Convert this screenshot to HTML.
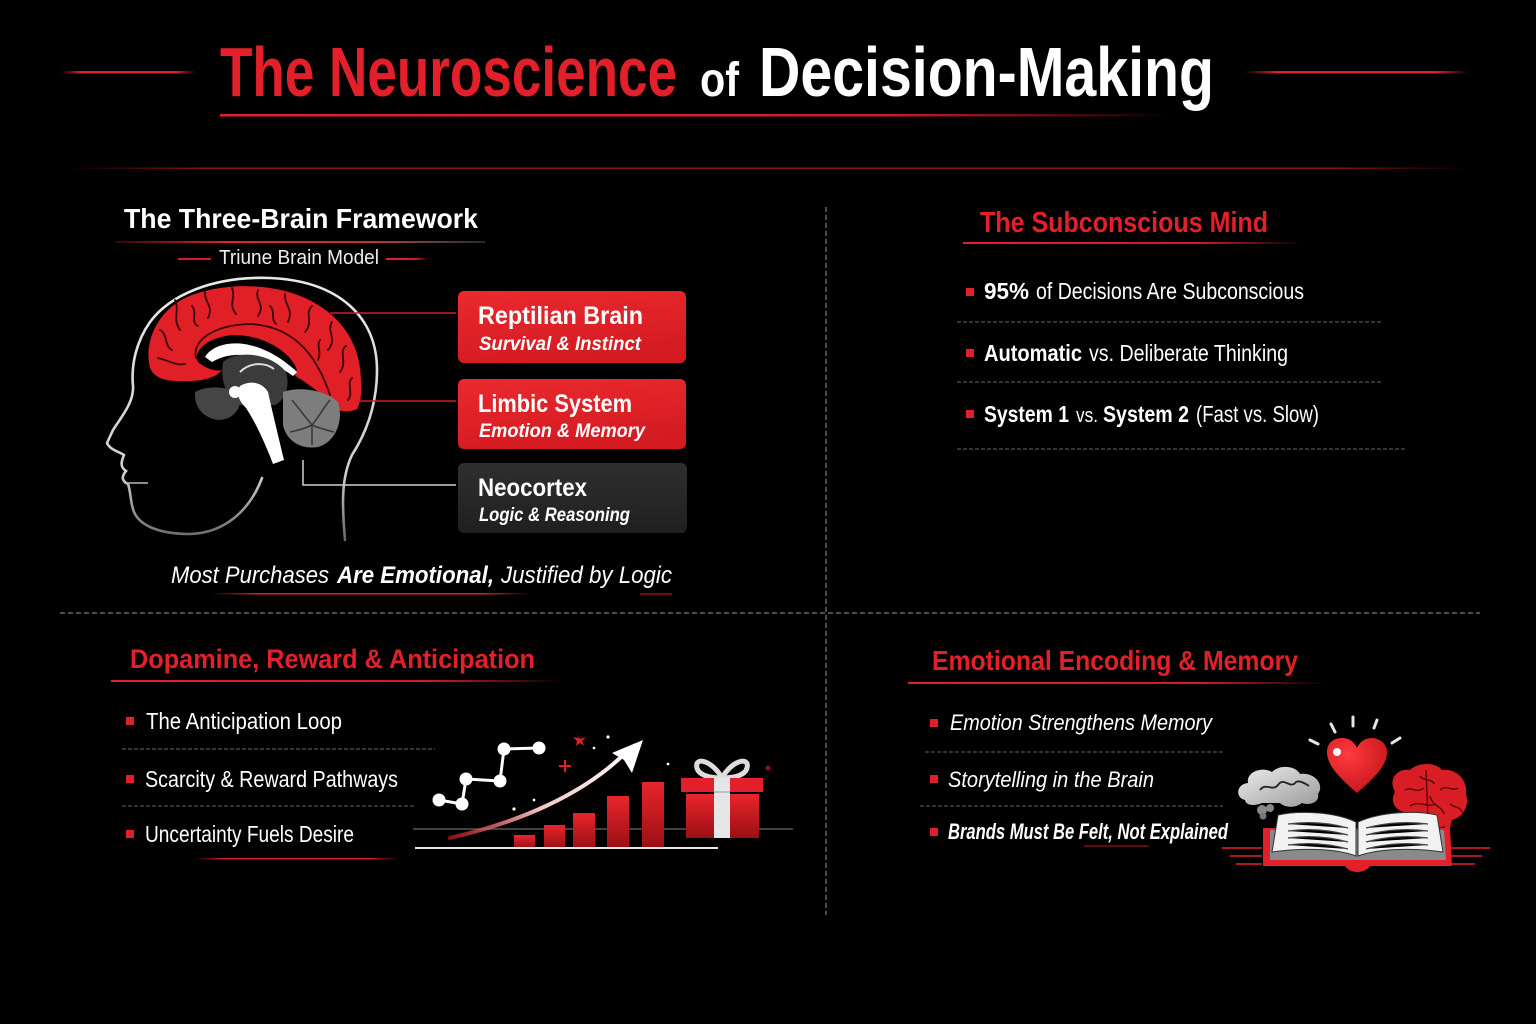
<!DOCTYPE html>
<html><head><meta charset="utf-8"><style>
html,body{margin:0;padding:0;background:#000;}
svg{display:block;}
text{font-family:"Liberation Sans Narrow","Liberation Sans",sans-serif;}
</style></head><body>
<svg width="1536" height="1024" viewBox="0 0 1536 1024" xmlns="http://www.w3.org/2000/svg">
<defs>
 <linearGradient id="rl" x1="0" x2="1" y1="0" y2="0">
  <stop offset="0" stop-color="#e3202a" stop-opacity="0"/><stop offset="0.15" stop-color="#e3202a"/><stop offset="0.85" stop-color="#e3202a"/><stop offset="1" stop-color="#e3202a" stop-opacity="0"/>
 </linearGradient>
 <linearGradient id="rlr" x1="0" x2="1" y1="0" y2="0">
  <stop offset="0" stop-color="#e3202a"/><stop offset="0.7" stop-color="#d01c24"/><stop offset="1" stop-color="#e3202a" stop-opacity="0"/>
 </linearGradient>
 <linearGradient id="rlg" x1="0" x2="1" y1="0" y2="0">
  <stop offset="0" stop-color="#e3202a" stop-opacity="0.2"/><stop offset="0.3" stop-color="#e3202a"/><stop offset="0.7" stop-color="#b33"/><stop offset="1" stop-color="#888" stop-opacity="0.3"/>
 </linearGradient>
 <linearGradient id="top" x1="0" x2="1" y1="0" y2="0">
  <stop offset="0" stop-color="#7a1015" stop-opacity="0"/><stop offset="0.1" stop-color="#8a1218"/><stop offset="0.9" stop-color="#8a1218"/><stop offset="1" stop-color="#7a1015" stop-opacity="0"/>
 </linearGradient>
 <linearGradient id="boxr" x1="0" x2="0.3" y1="0" y2="1">
  <stop offset="0" stop-color="#ea2a2f"/><stop offset="1" stop-color="#d41b22"/>
 </linearGradient>
 <linearGradient id="boxg" x1="0" x2="0" y1="0" y2="1">
  <stop offset="0" stop-color="#2f2f2f"/><stop offset="1" stop-color="#1f1f1f"/>
 </linearGradient>
 <linearGradient id="bar" x1="0" x2="0" y1="0" y2="1">
  <stop offset="0" stop-color="#e8262c"/><stop offset="1" stop-color="#9a0f14"/>
 </linearGradient>
 <linearGradient id="arr" x1="450" y1="838" x2="640" y2="742" gradientUnits="userSpaceOnUse">
  <stop offset="0" stop-color="#e3202a" stop-opacity="0.6"/><stop offset="0.45" stop-color="#f3c8c8"/><stop offset="1" stop-color="#fff"/>
 </linearGradient>
 <linearGradient id="head" x1="0" x2="0" y1="0" y2="1">
  <stop offset="0" stop-color="#e8e8e8"/><stop offset="0.75" stop-color="#cfcfcf"/><stop offset="1" stop-color="#666"/>
 </linearGradient>
 <linearGradient id="cloud" x1="0" x2="1" y1="0" y2="1">
  <stop offset="0" stop-color="#eee"/><stop offset="1" stop-color="#9a9a9a"/>
 </linearGradient>
 <radialGradient id="heart" cx="0.35" cy="0.3" r="0.8">
  <stop offset="0" stop-color="#ff3a3f"/><stop offset="1" stop-color="#c3141a"/>
 </radialGradient>
</defs>
<rect width="1536" height="1024" fill="#000"/>

<!-- TITLE -->
<rect x="61" y="71" width="135" height="2.5" fill="url(#rl)"/>
<rect x="1244" y="71" width="225" height="2.5" fill="url(#rl)"/>
<text x="220" y="96" font-size="70" font-weight="bold" fill="#e3202a" textLength="457" lengthAdjust="spacingAndGlyphs">The Neuroscience</text>
<text x="700" y="96" font-size="48" font-weight="bold" fill="#fff" textLength="39" lengthAdjust="spacingAndGlyphs">of</text>
<text x="759" y="96" font-size="70" font-weight="bold" fill="#fff" textLength="455" lengthAdjust="spacingAndGlyphs">Decision-Making</text>
<rect x="220" y="114" width="952" height="2.5" fill="url(#rlr)"/>
<rect x="64" y="167.5" width="1410" height="1.5" fill="url(#top)"/>

<!-- dividers -->
<line x1="826" y1="207" x2="826" y2="915" stroke="#9a9a9a" stroke-width="1" stroke-dasharray="5 3"/>
<line x1="60" y1="613" x2="1480" y2="613" stroke="#9a9a9a" stroke-width="1" stroke-dasharray="5 3"/>

<!-- SECTION 1 -->
<text x="124" y="228" font-size="28" font-weight="bold" fill="#fff" textLength="354" lengthAdjust="spacingAndGlyphs">The Three-Brain Framework</text>
<rect x="115" y="241" width="370" height="2" fill="url(#rlg)"/>
<line x1="178" y1="259" x2="211" y2="259" stroke="#d41e26" stroke-width="2"/>
<rect x="386" y="258" width="42" height="2" fill="url(#rlr)"/>
<text x="219" y="264" font-size="20" fill="#eee" textLength="160" lengthAdjust="spacingAndGlyphs">Triune Brain Model</text>

<!-- head outline -->
<path d="M345 540 C342 505 341 478 352 455 C368 430 377 402 377 370 C377 318 340 281 270 278 C213 276 170 295 150 322 C136 342 131 365 133 386 C134 402 122 416 113 430 L107 443 C110 450 120 452 124 455 C121 462 120 467 126 471 C121 477 122 481 128 484 C131 492 130 502 134 512 C140 526 160 534 190 534 C225 533 250 510 262 478" fill="none" stroke="url(#head)" stroke-width="2.6" stroke-linecap="round"/>
<path d="M124 483 L148 483" stroke="#bbb" stroke-width="1.5"/>

<!-- brain -->
<path d="M150 368 C143 340 160 305 195 294 C230 282 275 284 305 298 C338 313 356 338 360 368 C362 388 362 400 357 409 C350 412 344 412 338 410 C330 400 316 390 302 380 C290 374 296 372 297 370 C290 350 260 334 232 335 C205 338 193 352 198 362 C205 368 215 372 222 370 C214 380 195 382 178 381 C163 381 154 377 150 368 Z" fill="#e01f26"/>
<g fill="none" stroke="#3a0405" stroke-width="1.8" stroke-linecap="round">
 <path d="M196 358 C192 340 214 325 250 324 C290 326 315 350 330 395"/>
 <path d="M175 300 C180 312 172 318 180 330"/>
 <path d="M205 292 C204 302 214 306 208 318"/>
 <path d="M232 288 C236 298 228 304 236 314"/>
 <path d="M258 290 C254 300 266 304 258 316"/>
 <path d="M285 294 C284 306 294 308 288 322"/>
 <path d="M312 306 C304 314 314 322 305 332"/>
 <path d="M332 322 C326 332 338 338 328 350"/>
 <path d="M346 346 C338 352 348 362 340 372"/>
 <path d="M352 378 C346 384 354 392 348 400"/>
 <path d="M160 330 C168 334 164 346 172 350"/>
 <path d="M158 358 C168 360 176 366 185 364"/>
 <path d="M192 306 C198 314 190 322 198 326"/>
 <path d="M270 306 C276 312 270 318 276 324"/>
 <path d="M320 340 C316 346 322 352 318 360"/>
</g>
<path d="M205 357 C215 340 255 333 297 372 L293 376 C260 352 232 350 212 362 Z" fill="#fff"/>
<path d="M223 362 C235 350 270 352 286 372 C290 385 286 400 275 405 L240 405 C226 398 220 380 223 362 Z" fill="#3b3b3b"/>
<path d="M240 372 C250 362 265 362 274 369" fill="none" stroke="#ddd" stroke-width="2"/>
<path d="M195 392 C208 385 230 386 240 395 C242 410 232 420 218 420 C204 418 194 408 195 392 Z" fill="#454545"/>
<path d="M283 392 C300 386 325 390 338 402 C344 420 336 442 318 447 C300 450 286 440 283 425 Z" fill="#7d7d7d"/>
<g fill="none" stroke="#3a3a3a" stroke-width="1.6">
 <path d="M292 400 C300 410 306 418 312 425 M330 400 C322 410 318 418 312 425 M290 432 C300 430 306 428 312 425 M334 432 C326 430 318 428 312 425 M312 445 L312 425"/>
</g>
<circle cx="235" cy="392" r="6" fill="#fff"/>
<path d="M240 386 C250 380 262 382 268 392 C272 410 278 435 284 460 L273 464 C264 440 254 420 246 408 C238 400 236 392 240 386 Z" fill="#fff"/>

<!-- connectors -->
<line x1="330" y1="313" x2="456" y2="313" stroke="#d01c24" stroke-width="1.6"/>
<line x1="358" y1="401" x2="456" y2="401" stroke="#d01c24" stroke-width="1.6"/>
<polyline points="303,460 303,485 456,485" fill="none" stroke="#cfcfcf" stroke-width="1.5"/>

<!-- boxes -->
<rect x="458" y="291" width="228" height="72" rx="6" fill="url(#boxr)"/>
<text x="478" y="324" font-size="25" font-weight="bold" fill="#fff" textLength="165" lengthAdjust="spacingAndGlyphs">Reptilian Brain</text>
<text x="479" y="350" font-size="19" font-weight="bold" font-style="italic" fill="#fff" textLength="162" lengthAdjust="spacingAndGlyphs">Survival &amp; Instinct</text>
<rect x="458" y="379" width="228" height="70" rx="6" fill="url(#boxr)"/>
<text x="478" y="412" font-size="25" font-weight="bold" fill="#fff" textLength="154" lengthAdjust="spacingAndGlyphs">Limbic System</text>
<text x="479" y="437" font-size="19" font-weight="bold" font-style="italic" fill="#fff" textLength="166" lengthAdjust="spacingAndGlyphs">Emotion &amp; Memory</text>
<rect x="458" y="463" width="229" height="70" rx="6" fill="url(#boxg)"/>
<text x="478" y="496" font-size="25" font-weight="bold" fill="#fff" textLength="109" lengthAdjust="spacingAndGlyphs">Neocortex</text>
<text x="479" y="521" font-size="19" font-weight="bold" font-style="italic" fill="#fff" textLength="151" lengthAdjust="spacingAndGlyphs">Logic &amp; Reasoning</text>

<text x="171" y="583" font-size="24" font-style="italic" fill="#fff" textLength="158" lengthAdjust="spacingAndGlyphs">Most Purchases</text>
<text x="337" y="583" font-size="24" font-style="italic" font-weight="bold" fill="#fff" textLength="157" lengthAdjust="spacingAndGlyphs">Are Emotional,</text>
<text x="501" y="583" font-size="24" font-style="italic" fill="#fff" textLength="171" lengthAdjust="spacingAndGlyphs">Justified by Logic</text>
<rect x="211" y="593" width="319" height="1.5" fill="url(#rl)"/>
<line x1="640" y1="594" x2="672" y2="594" stroke="#8a1218" stroke-width="1.5"/>

<!-- SECTION 2 -->
<text x="980" y="232" font-size="29" font-weight="bold" fill="#e3202a" textLength="288" lengthAdjust="spacingAndGlyphs">The Subconscious Mind</text>
<rect x="963" y="242" width="339" height="2" fill="url(#rlr)"/>
<rect x="966" y="288" width="8" height="8" fill="#e3202a"/>
<text x="984" y="299" font-size="23" fill="#fff" textLength="45" lengthAdjust="spacingAndGlyphs" font-weight="bold">95%</text>
<text x="1036" y="299" font-size="23" fill="#fff" textLength="268" lengthAdjust="spacingAndGlyphs">of Decisions Are Subconscious</text>
<line x1="957" y1="322" x2="1383" y2="322" stroke="#666" stroke-width="1" stroke-dasharray="4 2"/>
<rect x="966" y="349" width="8" height="8" fill="#e3202a"/>
<text x="984" y="361" font-size="23" font-weight="bold" fill="#fff" textLength="98" lengthAdjust="spacingAndGlyphs">Automatic</text>
<text x="1089" y="361" font-size="23" fill="#fff" textLength="199" lengthAdjust="spacingAndGlyphs">vs. Deliberate Thinking</text>
<line x1="957" y1="382" x2="1383" y2="382" stroke="#666" stroke-width="1" stroke-dasharray="4 2"/>
<rect x="966" y="410" width="8" height="8" fill="#e3202a"/>
<text x="984" y="422" font-size="23" font-weight="bold" fill="#fff" textLength="85" lengthAdjust="spacingAndGlyphs">System 1</text>
<text x="1076" y="422" font-size="20" fill="#fff" textLength="22" lengthAdjust="spacingAndGlyphs">vs.</text>
<text x="1103" y="422" font-size="23" font-weight="bold" fill="#fff" textLength="86" lengthAdjust="spacingAndGlyphs">System 2</text>
<text x="1196" y="422" font-size="23" fill="#fff" textLength="123" lengthAdjust="spacingAndGlyphs">(Fast vs. Slow)</text>
<line x1="957" y1="449" x2="1407" y2="449" stroke="#666" stroke-width="1" stroke-dasharray="4 2"/>

<!-- SECTION 3 -->
<text x="130" y="668" font-size="27" font-weight="bold" fill="#e3202a" textLength="405" lengthAdjust="spacingAndGlyphs">Dopamine, Reward &amp; Anticipation</text>
<rect x="111" y="680" width="453" height="2" fill="url(#rlr)"/>
<rect x="126" y="717" width="8" height="8" fill="#e3202a"/>
<text x="146" y="729" font-size="23" fill="#fff" textLength="196" lengthAdjust="spacingAndGlyphs">The Anticipation Loop</text>
<line x1="122" y1="749" x2="435" y2="749" stroke="#666" stroke-width="1" stroke-dasharray="4 2"/>
<rect x="126" y="775" width="8" height="8" fill="#e3202a"/>
<text x="145" y="787" font-size="23" fill="#fff" textLength="253" lengthAdjust="spacingAndGlyphs">Scarcity &amp; Reward Pathways</text>
<line x1="122" y1="806" x2="415" y2="806" stroke="#666" stroke-width="1" stroke-dasharray="4 2"/>
<rect x="126" y="830" width="8" height="8" fill="#e3202a"/>
<text x="145" y="842" font-size="23" fill="#fff" textLength="209" lengthAdjust="spacingAndGlyphs">Uncertainty Fuels Desire</text>
<rect x="194" y="858" width="205" height="1.5" fill="url(#rl)"/>

<!-- chart -->
<line x1="413" y1="829" x2="793" y2="829" stroke="#555" stroke-width="1.5"/>
<g stroke="#fff" stroke-width="3">
 <line x1="439" y1="800" x2="462" y2="804"/><line x1="462" y1="804" x2="466" y2="779"/>
 <line x1="466" y1="779" x2="500" y2="781"/><line x1="500" y1="781" x2="504" y2="749"/>
 <line x1="504" y1="749" x2="539" y2="748"/>
</g>
<g fill="#fff">
 <circle cx="439" cy="800" r="6.5"/><circle cx="462" cy="804" r="6.5"/><circle cx="466" cy="779" r="6.5"/>
 <circle cx="500" cy="781" r="6.5"/><circle cx="504" cy="749" r="6.5"/><circle cx="539" cy="748" r="6.5"/>
 <circle cx="608" cy="737" r="1.6"/><circle cx="594" cy="748" r="1.3"/><circle cx="668" cy="764" r="1.4"/>
 <circle cx="534" cy="800" r="1.4"/><circle cx="514" cy="809" r="1.6"/>
</g>
<path d="M577 733 L580 739 L586 737 L582 741 L584 746 L580 743 L576 746 L577 741 L573 737 L579 738 Z" fill="#e3202a"/>
<path d="M565 760 V772 M559 766 H571" stroke="#e3202a" stroke-width="2"/>
<path d="M768 765 V771 M765 768 H771" stroke="#e3202a" stroke-width="1"/>
<rect x="514" y="835" width="21" height="13" fill="url(#bar)"/>
<rect x="544" y="825" width="21" height="23" fill="url(#bar)"/>
<rect x="573" y="813" width="22" height="35" fill="url(#bar)"/>
<rect x="607" y="796" width="22" height="52" fill="url(#bar)"/>
<rect x="642" y="782" width="22" height="66" fill="url(#bar)"/>
<path d="M450 838 C520 822 580 795 620 758" fill="none" stroke="url(#arr)" stroke-width="4" stroke-linecap="round"/>
<path d="M643 740 L632 773 L624 760 L612 753 Z" fill="#fff"/>
<line x1="415" y1="848" x2="718" y2="848" stroke="#e8e8e8" stroke-width="2"/>
<!-- gift -->
<path d="M722 778 C712 760 694 756 697 768 C699 776 712 778 722 778 Z" fill="none" stroke="#ddd" stroke-width="5"/>
<path d="M722 778 C732 760 750 756 747 768 C745 776 732 778 722 778 Z" fill="none" stroke="#ddd" stroke-width="5"/>
<rect x="681" y="778" width="82" height="14" fill="#e3202a"/>
<rect x="686" y="794" width="73" height="44" fill="url(#bar)"/>
<rect x="714" y="778" width="16" height="60" fill="#e6e6e6"/>
<line x1="714" y1="792" x2="730" y2="792" stroke="#999" stroke-width="1"/>

<!-- SECTION 4 -->
<text x="932" y="670" font-size="28" font-weight="bold" fill="#e3202a" textLength="366" lengthAdjust="spacingAndGlyphs">Emotional Encoding &amp; Memory</text>
<rect x="908" y="682" width="419" height="2" fill="url(#rlr)"/>
<rect x="930" y="719" width="8" height="8" fill="#e3202a"/>
<text x="950" y="730" font-size="22" font-style="italic" fill="#fff" textLength="262" lengthAdjust="spacingAndGlyphs">Emotion Strengthens Memory</text>
<line x1="925" y1="752" x2="1225" y2="752" stroke="#666" stroke-width="1" stroke-dasharray="4 2"/>
<rect x="930" y="775" width="8" height="8" fill="#e3202a"/>
<text x="948" y="787" font-size="22" font-style="italic" fill="#fff" textLength="206" lengthAdjust="spacingAndGlyphs">Storytelling in the Brain</text>
<line x1="920" y1="806" x2="1223" y2="806" stroke="#666" stroke-width="1" stroke-dasharray="4 2"/>
<rect x="930" y="828" width="8" height="8" fill="#e3202a"/>
<text x="948" y="839" font-size="22" font-style="italic" font-weight="bold" fill="#fff" textLength="280" lengthAdjust="spacingAndGlyphs">Brands Must Be Felt, Not Explained</text>
<line x1="1084" y1="846" x2="1149" y2="846" stroke="#7a1015" stroke-width="1.5"/>

<!-- memory illustration -->
<g stroke="#e6e6e6" stroke-width="3" stroke-linecap="round">
 <line x1="1331" y1="724" x2="1335" y2="732"/><line x1="1353" y1="717" x2="1353" y2="726"/>
 <line x1="1377" y1="720" x2="1374" y2="728"/><line x1="1310" y1="740" x2="1318" y2="744"/>
 <line x1="1392" y1="743" x2="1400" y2="738"/>
</g>
<path d="M1357 793 C1340 778 1327 766 1327 752 C1327 742 1335 738 1342 738 C1350 738 1355 743 1357 748 C1359 743 1364 738 1372 738 C1380 738 1387 744 1387 752 C1387 766 1374 778 1357 793 Z" fill="url(#heart)"/>
<circle cx="1337" cy="752" r="4" fill="#fff"/>
<path d="M1245 800 C1235 798 1236 784 1248 783 C1246 772 1262 766 1272 772 C1280 764 1296 766 1300 774 C1314 772 1325 784 1318 794 C1320 802 1310 806 1302 803 C1296 808 1285 808 1280 803 L1262 803 C1255 806 1246 806 1245 800 Z" fill="url(#cloud)"/>
<path d="M1260 790 C1266 782 1272 792 1278 785 C1284 776 1290 790 1296 782 C1300 780 1306 784 1309 786" fill="none" stroke="#222" stroke-width="1.8"/>
<circle cx="1262" cy="810" r="5" fill="#888"/><circle cx="1270" cy="808" r="4" fill="#888"/><circle cx="1263" cy="816" r="3.5" fill="#777"/>
<path d="M1395 792 C1388 780 1396 768 1410 770 C1418 762 1436 762 1442 770 C1456 768 1468 780 1466 794 C1470 806 1462 818 1452 820 C1446 828 1436 830 1428 824 C1416 826 1406 820 1404 812 C1394 810 1390 800 1395 792 Z" fill="#d81e24"/>
<g fill="none" stroke="#5a0508" stroke-width="1.4">
 <path d="M1405 790 C1412 786 1416 794 1424 788"/><path d="M1420 776 C1424 782 1432 778 1434 784"/>
 <path d="M1440 790 C1446 784 1452 792 1458 788"/><path d="M1410 806 C1420 800 1426 808 1436 804"/>
 <path d="M1430 796 C1432 806 1442 806 1444 814"/><path d="M1450 804 C1454 808 1460 806 1462 812"/>
 <path d="M1426 770 L1428 818"/>
</g>
<path d="M1442 820 L1448 836 L1452 820 Z" fill="#d81e24"/>
<!-- book -->
<g stroke="#e3202a" stroke-width="1.5">
 <line x1="1222" y1="848" x2="1262" y2="848"/><line x1="1230" y1="856" x2="1262" y2="856"/><line x1="1236" y1="864" x2="1262" y2="864"/>
 <line x1="1450" y1="848" x2="1490" y2="848"/><line x1="1450" y1="856" x2="1482" y2="856"/><line x1="1450" y1="864" x2="1475" y2="864"/>
</g>
<path d="M1263 828 L1450 828 L1452 866 L1370 866 C1365 874 1350 874 1345 866 L1263 866 Z" fill="#e3202a"/>
<path d="M1270 830 L1444 830 L1446 860 L1270 860 Z" fill="#8a8a8a"/>
<path d="M1278 815 C1300 810 1335 812 1356 822 L1356 856 C1335 848 1300 848 1272 852 Z" fill="#f2f2f2" stroke="#333" stroke-width="1"/>
<path d="M1437 815 C1415 810 1380 812 1358 822 L1358 856 C1380 848 1415 848 1443 852 Z" fill="#f2f2f2" stroke="#333" stroke-width="1"/>
<g stroke="#444" stroke-width="1.2">
 <path d="M1288 824 C1310 821 1330 823 1348 828"/><path d="M1288 831 C1310 828 1330 830 1348 835"/>
 <path d="M1288 838 C1310 835 1330 837 1348 842"/><path d="M1288 845 C1310 842 1330 844 1348 849"/>
 <path d="M1366 828 C1385 823 1405 821 1428 824"/><path d="M1366 835 C1385 830 1405 828 1428 831"/>
 <path d="M1366 842 C1385 837 1405 835 1428 838"/><path d="M1366 849 C1385 844 1405 842 1428 845"/>
</g>
</svg>
</body></html>
